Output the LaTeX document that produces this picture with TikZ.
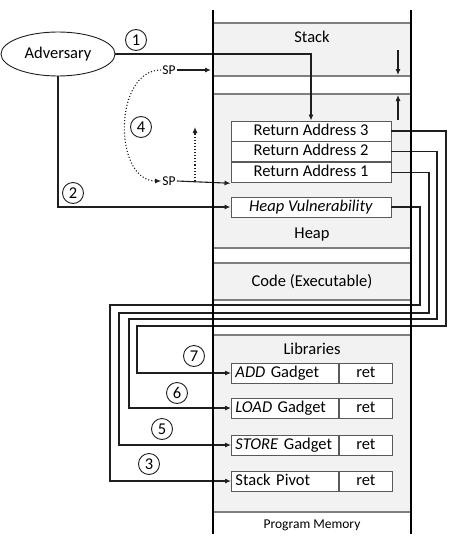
\documentclass[tikz,border=0pt]{standalone}
\usepackage{fontspec}
\setmainfont{Carlito}
\usepackage{tikz}
\usetikzlibrary{
  arrows.meta,
  shapes.geometric,
  positioning
}
\definecolor{memFill}{HTML}{F2F2F2}
\definecolor{memLine}{HTML}{7F7F7F}
\definecolor{boxLine}{HTML}{595959}
\definecolor{wireCol}{HTML}{1F1F1F}
\newcommand{\mainsz}{\fontsize{16.5}{19}\selectfont}
\newcommand{\smallsz}{\fontsize{13.5}{16}\selectfont}
\tikzset{
  region/.style={draw=memLine, line width=1.3pt, fill=memFill, minimum width=198pt, inner sep=0pt},
  memwall/.style={line width=2.2pt, black},
  regtext/.style={font=\mainsz, inner sep=0pt},
  rabox/.style={
    draw=boxLine, fill=white, line width=0.9pt, minimum width=160pt, minimum height=20pt,
    inner sep=0pt, font=\mainsz, text height=11pt, text depth=3pt
  },
  gbox/.style={rabox, minimum width=0pt, text width=99pt, inner xsep=4pt, align=left},
  retbox/.style={rabox, minimum width=53pt},
  advnode/.style={draw=wireCol, ellipse, line width=0.9pt, minimum width=114pt, minimum height=44pt, font=\mainsz},
  stepcirc/.style={draw=wireCol, circle, line width=0.9pt, minimum size=21pt, inner sep=0pt, font=\mainsz},
  sptext/.style={font=\smallsz, inner sep=1pt},
  wire/.style={-{Latex[length=6pt, width=5pt]}, line width=1.1pt, wireCol},
  dotwire/.style={wire, dotted},
  growth/.style={wire}
}
\begin{document}
\begin{tikzpicture}[x=1pt, y=-1pt]
  \useasboundingbox (0,0) rectangle (448,538);
  % memory regions
  \node[region, minimum height=53pt] (stack) at (312,49.5) {};
  \node[region, minimum height=154pt] (heap) at (312,171) {};
  \node[region, minimum height=37pt] (code) at (312,281.5) {};
  \node[region, minimum height=177pt] (libs) at (312,423.5) {};
  \node[regtext] (stacklbl) at (312,37) {Stack};
  \node[regtext] (heaplbl) at (312,235) {Heap};
  \node[regtext] (codelbl) at (312,282) {Code (Executable)};
  \node[regtext] (libslbl) at (312,349) {Libraries};
  \node[regtext, font=\smallsz] (memlbl) at (312,525) {Program Memory};

  % stack frames
  \node[rabox] (ra3) at (311,131) {Return Address 3};
  \node[rabox, below=0pt of ra3] (ra2) {Return Address 2};
  \node[rabox, below=0pt of ra2] (ra1) {Return Address 1};
  \node[rabox] (heapv) at (311,207) {\emph{Heap Vulnerability}};

  % gadgets
  \node[gbox, anchor=west] (add) at (231,373) {\emph{ADD} Gadget};
  \node[retbox, right=0pt of add] (addret) {ret};
  \node[gbox, anchor=west] (load) at (231,408) {\emph{LOAD} Gadget};
  \node[retbox, right=0pt of load] (loadret) {ret};
  \node[gbox, anchor=west] (store) at (231,445) {\emph{STORE} Gadget};
  \node[retbox, right=0pt of store] (storeret) {ret};
  \node[gbox, anchor=west] (pivot) at (231,481) {Stack Pivot};
  \node[retbox, right=0pt of pivot] (pivotret) {ret};

  % adversary and stack pointer
  \node[advnode] (adv) at (58,54) {Adversary};
  \node[sptext] (sptop) at (169,70) {SP};
  \node[sptext] (spbot) at (169,181) {SP};
  \coordinate (spend) at (211,70);
  \coordinate (spmove) at (195,181);
  \coordinate (spmoveend) at (195,127);

  % stack growth
  \coordinate (growA) at (398,50);
  \coordinate (growB) at (398,75);
  \coordinate (growC) at (398,120);
  \coordinate (growD) at (398,95);
  \draw[growth] (growA) -- (growB);
  \draw[growth] (growC) -- (growD);

  % attack steps
  \draw[wire] (adv.east) -| (ra3.north);
  \draw[wire] (adv.south) |- (heapv.west);
  \draw[wire] (sptop.east) -- (spend);
  \draw[wire] (spbot.east) -- (ra1.south west);
  \draw[dotwire] (sptop.west) .. controls (113,70) and (113,181) .. (spbot.west);
  \draw[dotwire] (spmove) -- (spmoveend);

  % returns into gadgets
  \foreach \src/\dst/\rx/\hy/\lx in {heapv/pivot/420/305/110, ra1/store/429/313/119,
                                     ra2/load/437/319/129, ra3/add/446/326/137} {
    \draw[wire] (\src.east) -| (\rx,\hy) -- (\lx,\hy) |- (\dst.west);
  }

  \node[stepcirc] (c1) at (136,40) {1};
  \node[stepcirc] (c2) at (73,193) {2};
  \node[stepcirc] (c4) at (141,127) {4};
  \node[stepcirc] (c7) at (194,356) {7};
  \node[stepcirc] (c6) at (177,393) {6};
  \node[stepcirc] (c5) at (162,429) {5};
  \node[stepcirc] (c3) at (149,464) {3};

  % memory walls
  \draw[memwall] (213,10) -- (213,534);
  \draw[memwall] (411,10) -- (411,534);
\end{tikzpicture}
\end{document}
